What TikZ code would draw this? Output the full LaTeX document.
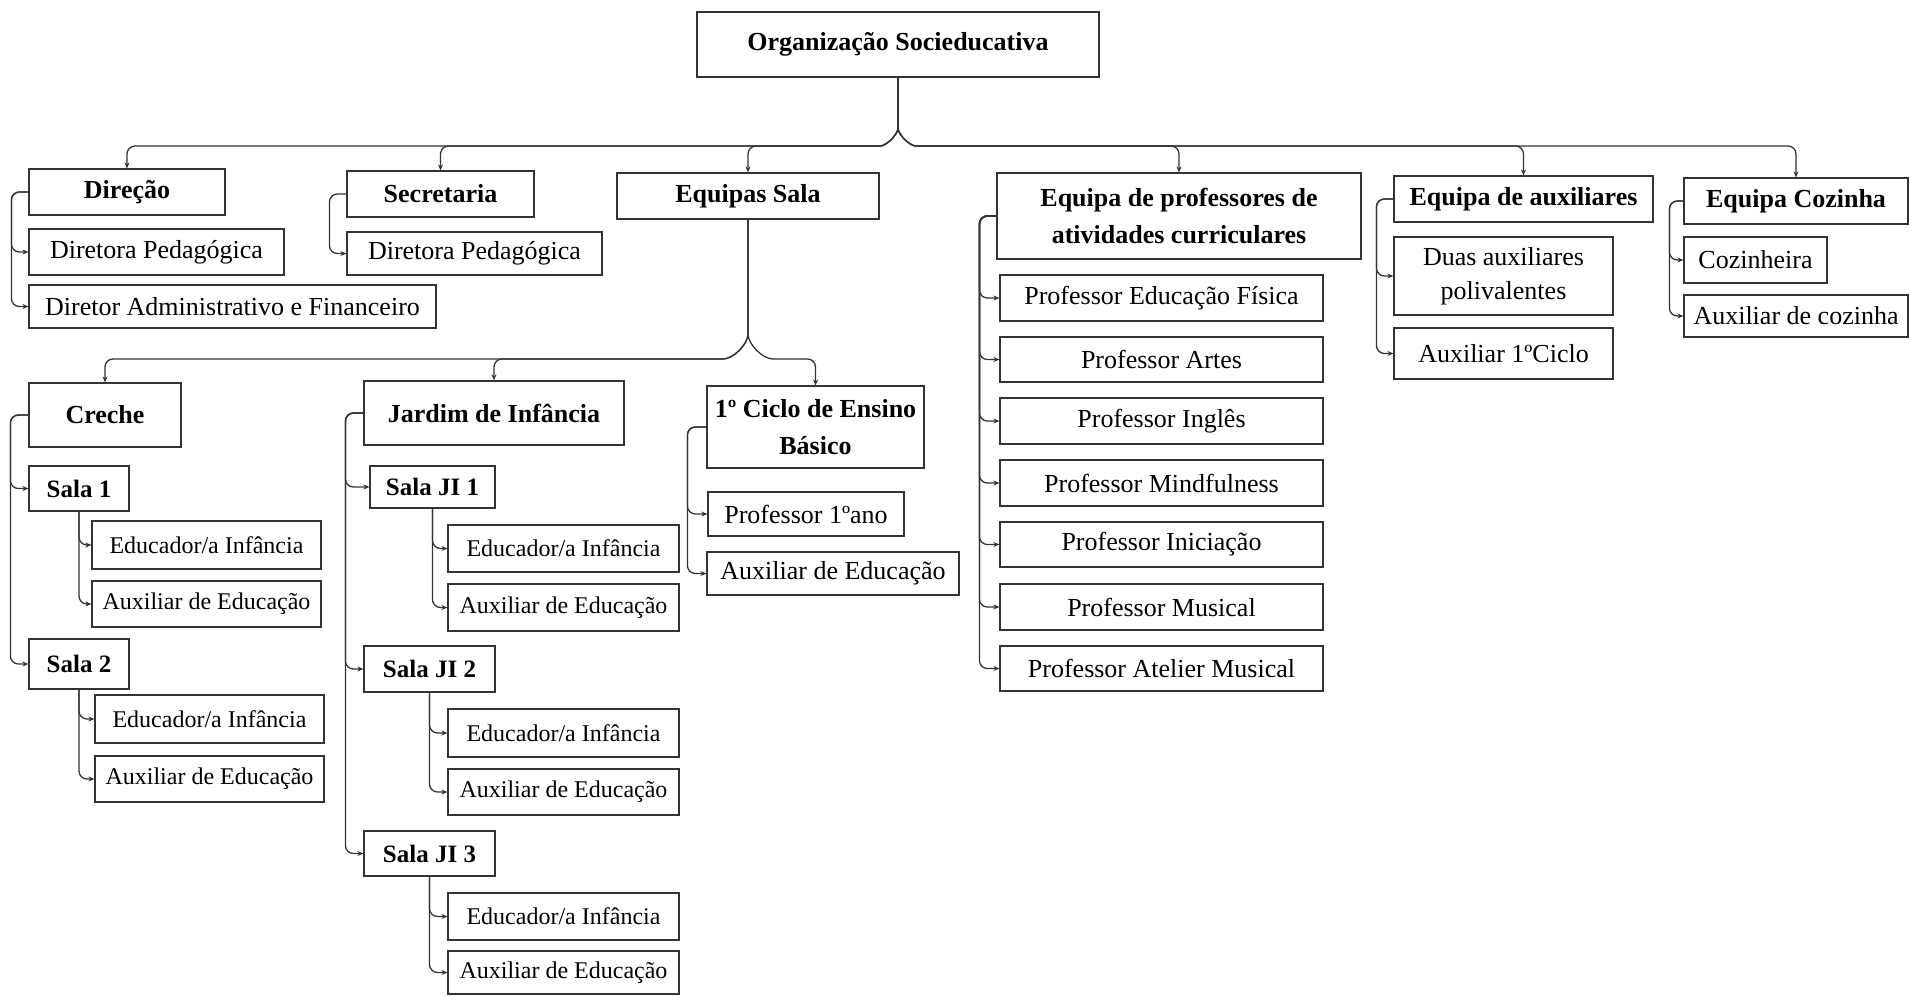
\documentclass[tikz,border=0pt]{standalone}
\usepackage{fontspec}
\setmainfont{Liberation Serif}
\usetikzlibrary{arrows.meta,calc}
\newcommand\mkbox[7]{%
  \pgfmathsetmacro\bw{#4-#2}\pgfmathsetmacro\bh{#5-#3}%
  \pgfmathsetmacro\bcx{(#2+#4)/2}\pgfmathsetmacro\bcy{(#3+#5)/2}%
  \node[#6, minimum width=\bw pt, minimum height=\bh pt] (#1) at (\bcx,\bcy) {#7};}
\tikzset{
  bxs/.style={draw=black!80, line width=1.2pt, inner sep=0pt, align=center, text=black},
  hd/.style={bxs, font=\fontsize{26}{37}\selectfont\bfseries},
  rg/.style={bxs, font=\fontsize{26}{34}\selectfont},
  sl/.style={bxs, font=\fontsize{25}{30}\selectfont\bfseries},
  sm/.style={bxs, font=\fontsize{24}{28}\selectfont},
  conn/.style={draw=black!80, line width=1.3pt, -{Stealth[length=6pt,width=5pt]}, rounded corners=8pt},
}
\begin{document}
\begin{tikzpicture}[x=1pt,y=-1pt]
\useasboundingbox (0,0) rectangle (1910,996);
% top level
\mkbox{org}{697}{12}{1099}{77}{hd}{Organização Socieducativa}
\mkbox{dir}{29}{169}{225}{215}{hd}{Direção}
\mkbox{dpa}{29}{229}{284}{275}{rg}{Diretora Pedagógica}
\mkbox{dadm}{29}{285}{436}{328}{rg}{Diretor Administrativo e Financeiro}
\mkbox{sec}{347}{171}{534}{217}{hd}{Secretaria}
\mkbox{dpb}{347}{232}{602}{275}{rg}{Diretora Pedagógica}
\mkbox{eqs}{617}{173}{879}{219}{hd}{Equipas Sala}
\mkbox{prof}{997}{173}{1361}{259}{hd}{Equipa de professores de\\atividades curriculares}
\mkbox{aux}{1394}{176}{1653}{222}{hd}{Equipa de auxiliares}
\mkbox{coz}{1684}{178}{1908}{224}{hd}{Equipa Cozinha}
% professors
\mkbox{pa}{1000}{275}{1323}{321}{rg}{Professor Educação Física}
\mkbox{pb}{1000}{337}{1323}{382}{rg}{Professor Artes}
\mkbox{pc}{1000}{398}{1323}{444}{rg}{Professor Inglês}
\mkbox{pd}{1000}{460}{1323}{506}{rg}{Professor Mindfulness}
\mkbox{pe}{1000}{522}{1323}{567}{rg}{Professor Iniciação}
\mkbox{pf}{1000}{584}{1323}{630}{rg}{Professor Musical}
\mkbox{pg}{1000}{646}{1323}{691}{rg}{Professor Atelier Musical}
% auxiliares
\mkbox{duas}{1394}{237}{1613}{315}{rg}{Duas auxiliares\\polivalentes}
\mkbox{auxc}{1394}{328}{1613}{379}{rg}{Auxiliar 1ºCiclo}
% cozinha
\mkbox{cozi}{1684}{237}{1827}{283}{rg}{Cozinheira}
\mkbox{auxcoz}{1684}{295}{1908}{337}{rg}{Auxiliar de cozinha}
% second level
\mkbox{creche}{29}{383}{181}{447}{hd}{Creche}
\mkbox{jardim}{364}{381}{624}{445}{hd}{Jardim de Infância}
\mkbox{ciclo}{707}{386}{924}{468}{hd}{1º Ciclo de Ensino\\Básico}
\mkbox{salaa}{29}{466}{129}{511}{sl}{Sala 1}
\mkbox{saed}{92}{521}{321}{569}{sm}{Educador/a Infância}
\mkbox{saax}{92}{581}{321}{627}{sm}{Auxiliar de Educação}
\mkbox{salab}{29}{639}{129}{689}{sl}{Sala 2}
\mkbox{sbed}{95}{695}{324}{743}{sm}{Educador/a Infância}
\mkbox{sbax}{95}{756}{324}{802}{sm}{Auxiliar de Educação}
\mkbox{jia}{370}{466}{495}{508}{sl}{Sala JI 1}
\mkbox{jiaed}{448}{525}{679}{572}{sm}{Educador/a Infância}
\mkbox{jiaax}{448}{584}{679}{631}{sm}{Auxiliar de Educação}
\mkbox{jib}{364}{646}{495}{692}{sl}{Sala JI 2}
\mkbox{jibed}{448}{709}{679}{757}{sm}{Educador/a Infância}
\mkbox{jibax}{448}{769}{679}{815}{sm}{Auxiliar de Educação}
\mkbox{jic}{364}{831}{495}{876}{sl}{Sala JI 3}
\mkbox{jiced}{448}{893}{679}{940}{sm}{Educador/a Infância}
\mkbox{jicax}{448}{951}{679}{994}{sm}{Auxiliar de Educação}
\mkbox{pano}{708}{492}{904}{536}{rg}{Professor 1ºano}
\mkbox{cax}{707}{552}{959}{595}{rg}{Auxiliar de Educação}
% top brace
\coordinate (hub) at (898,120);
\coordinate (bus) at (898,146);
\foreach \t in {dir,sec,eqs}
  \draw[conn] (org.south) -- (hub) to[out=-90,in=0] ([xshift=-26pt]bus) -- (\t.north |- bus) -- (\t.north);
\foreach \t in {prof,aux,coz}
  \draw[conn] (org.south) -- (hub) to[out=-90,in=180] ([xshift=26pt]bus) -- (\t.north |- bus) -- (\t.north);
% second brace
\coordinate (hubb) at (748,326);
\coordinate (busb) at (748,359);
\foreach \t in {creche,jardim}
  \draw[conn] (eqs.south) -- (hubb) to[out=-90,in=0] ([xshift=-33pt]busb) -- (\t.north |- busb) -- (\t.north);
\draw[conn] (eqs.south) -- (hubb) to[out=-90,in=180] ([xshift=33pt]busb) -- (ciclo.north |- busb) -- (ciclo.north);
% brackets
\foreach \t in {dpa,dadm} \draw[conn] (dir.west) -- ++(-17,0) |- (\t.west);
\draw[conn] (sec.west) -- ++(-17,0) |- (dpb.west);
\foreach \t in {pa,pb,pc,pd,pe,pf,pg} \draw[conn] (prof.west) -- ++(-17,0) |- (\t.west);
\foreach \t in {duas,auxc} \draw[conn] (aux.west) -- ++(-17,0) |- (\t.west);
\foreach \t in {cozi,auxcoz} \draw[conn] (coz.west) -- ++(-14,0) |- (\t.west);
\foreach \t in {salaa,salab} \draw[conn] (creche.west) -- ++(-18,0) |- (\t.west);
\foreach \t in {jia,jib,jic} \draw[conn] (jardim.west) -- ++(-18,0) |- (\t.west);
\foreach \t in {pano,cax} \draw[conn] (ciclo.west) -- ++(-19,0) |- (\t.west);
\foreach \t in {saed,saax} \draw[conn] (salaa.south) |- (\t.west);
\foreach \t in {sbed,sbax} \draw[conn] (salab.south) |- (\t.west);
\foreach \t in {jiaed,jiaax} \draw[conn] (jia.south) |- (\t.west);
\foreach \t in {jibed,jibax} \draw[conn] (jib.south) |- (\t.west);
\foreach \t in {jiced,jicax} \draw[conn] (jic.south) |- (\t.west);
\end{tikzpicture}
\end{document}
